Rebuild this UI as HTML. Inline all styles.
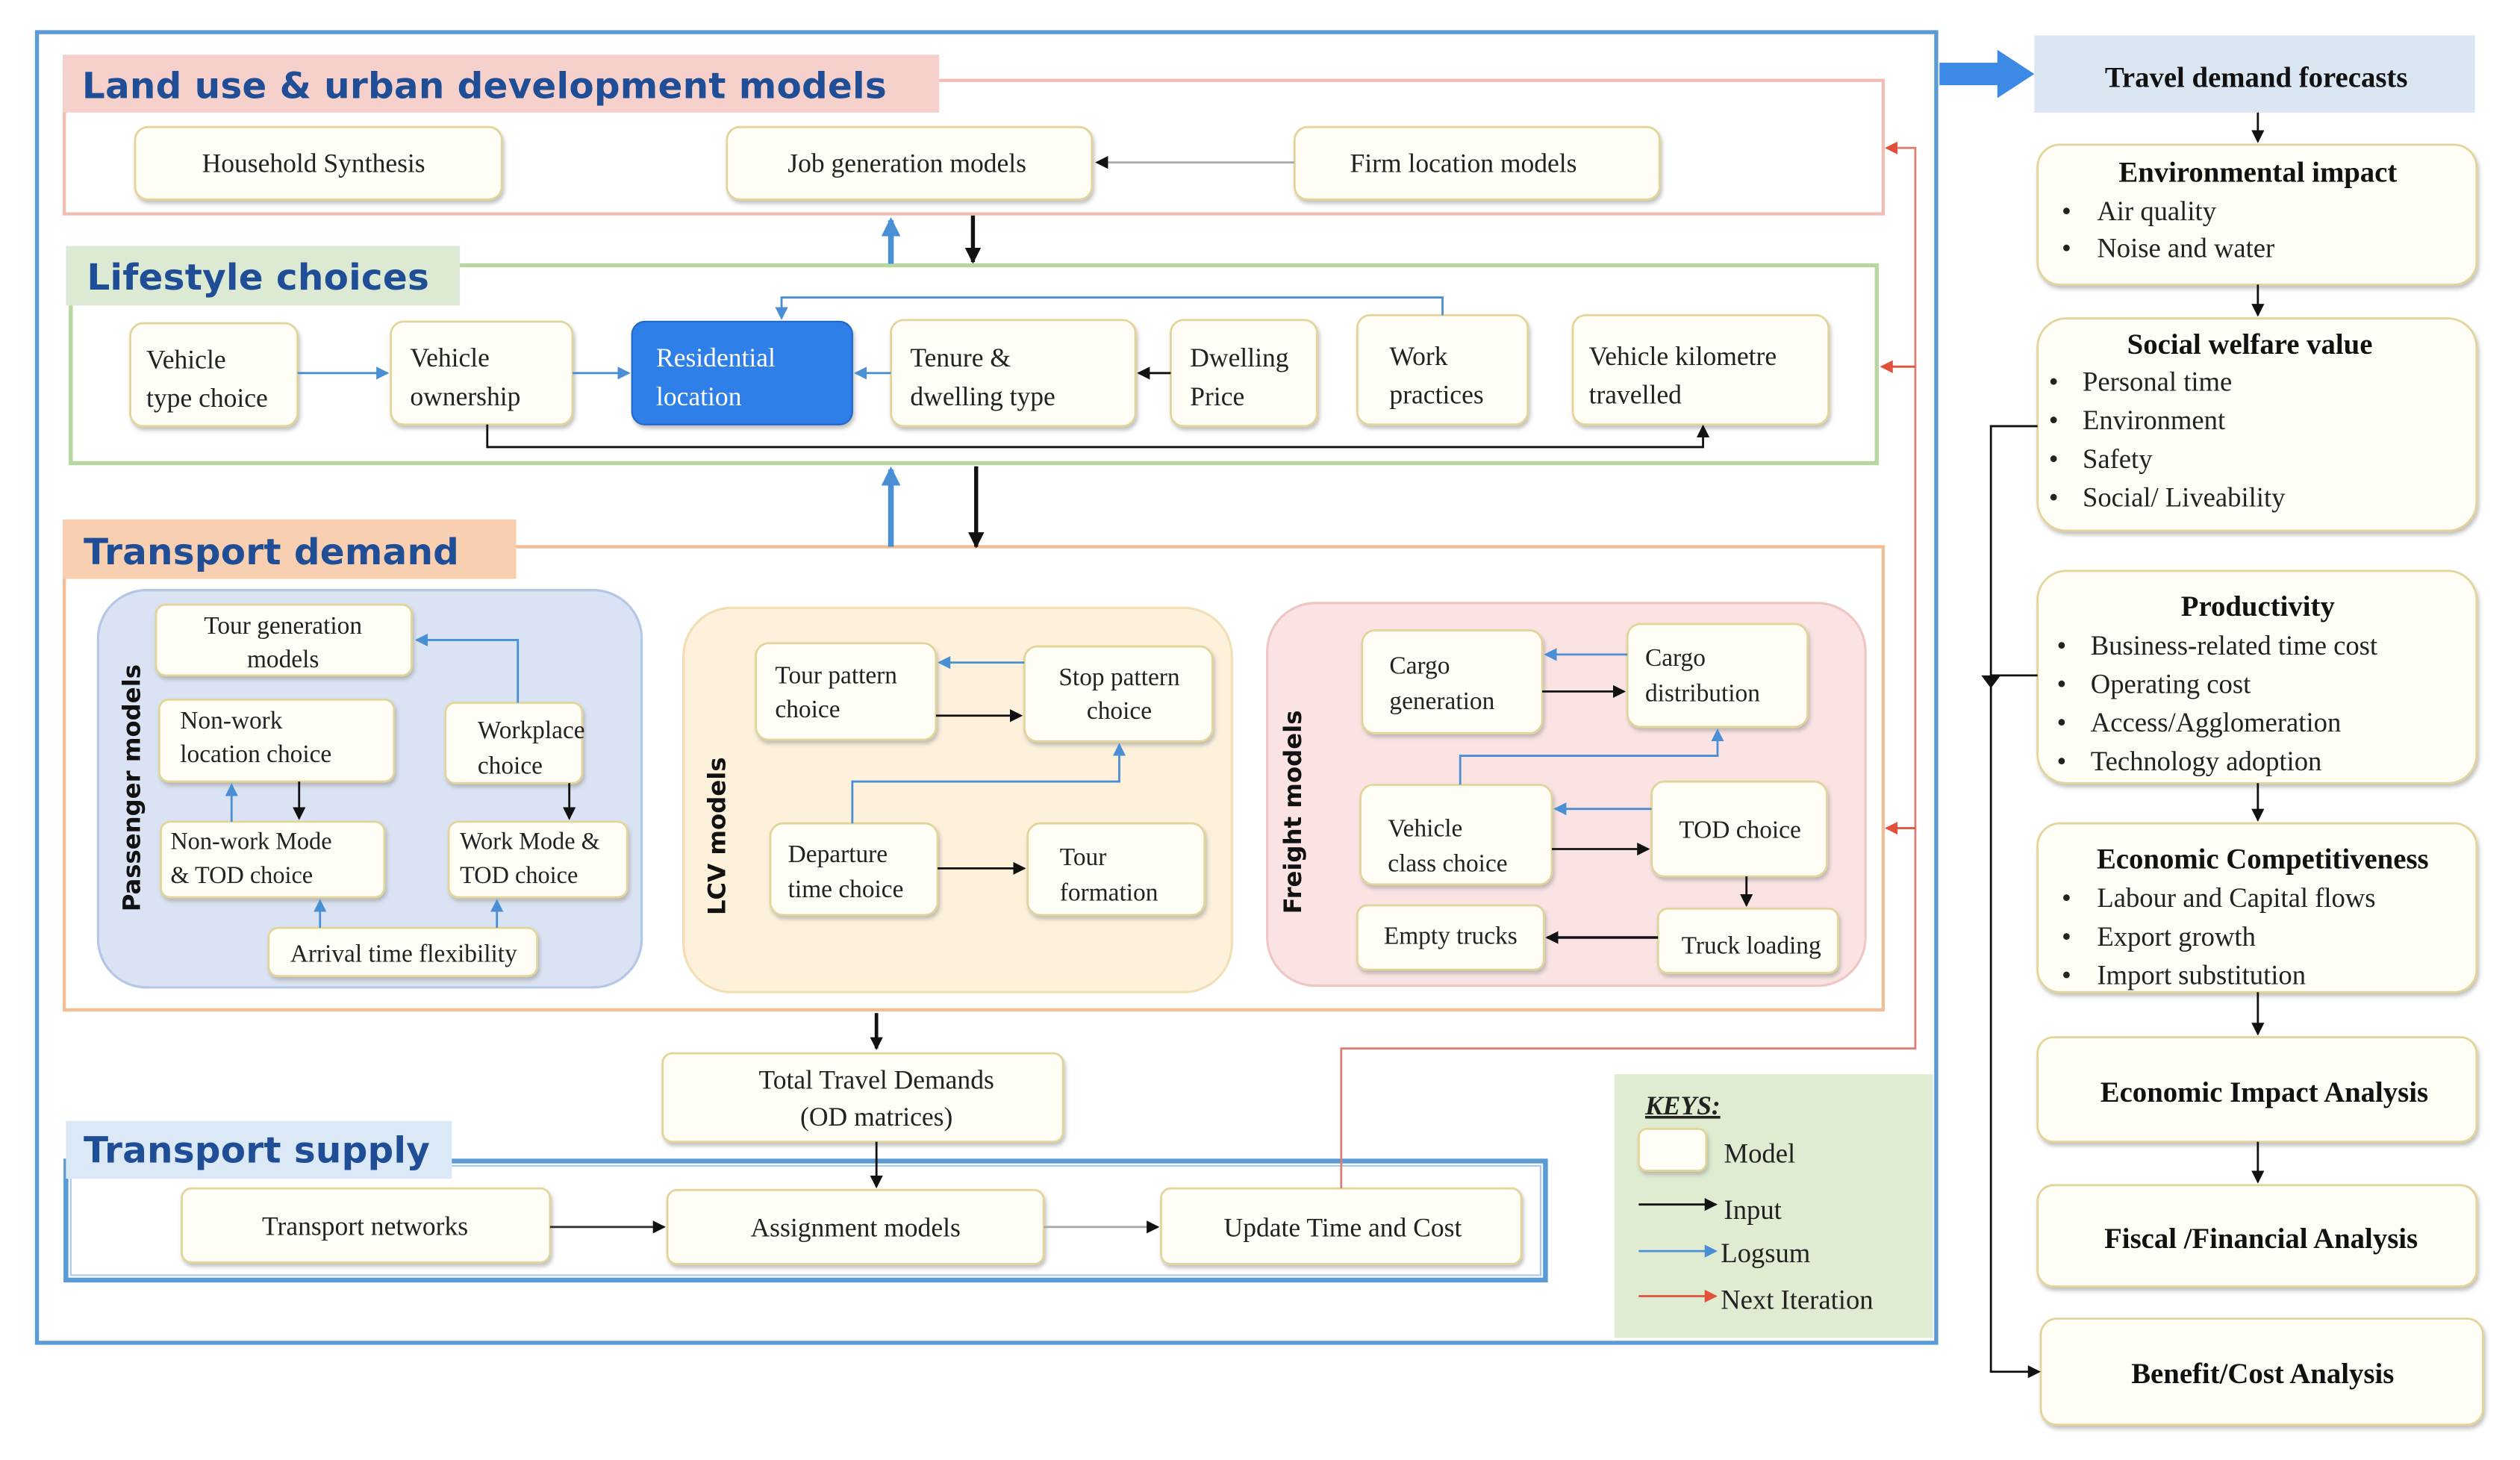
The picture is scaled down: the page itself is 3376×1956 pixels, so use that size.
<!DOCTYPE html>
<html><head><meta charset="utf-8"><style>
html,body{margin:0;padding:0;background:#fff}
svg{display:block}
.s{font-family:"Liberation Serif",serif;font-size:16.5px;fill:#222}
.h{font-family:"DejaVu Sans","Liberation Sans",sans-serif;font-weight:bold;font-size:22.5px;fill:#1f4e96;letter-spacing:0.1px}
.r{font-family:"Liberation Serif",serif;font-size:17px;fill:#222}
.rb{font-family:"Liberation Serif",serif;font-size:18px;font-weight:bold;fill:#111}
.v{font-family:"DejaVu Sans","Liberation Sans",sans-serif;font-weight:bold;font-size:15px;fill:#111}
</style></head><body>
<svg width="3376" height="1956" viewBox="1 0 1567 907.9" preserveAspectRatio="none" xmlns="http://www.w3.org/2000/svg">
<defs>
<marker id="ak" markerWidth="8" markerHeight="8" refX="7" refY="4" orient="auto" markerUnits="userSpaceOnUse"><path d="M0,0 L8,4 L0,8 z" fill="#111"/></marker>
<marker id="ab" markerWidth="8" markerHeight="8" refX="7" refY="4" orient="auto" markerUnits="userSpaceOnUse"><path d="M0,0 L8,4 L0,8 z" fill="#4a8fd4"/></marker>
<marker id="ar" markerWidth="8" markerHeight="8" refX="7" refY="4" orient="auto" markerUnits="userSpaceOnUse"><path d="M0,0 L8,4 L0,8 z" fill="#e0503a"/></marker>
<marker id="aB" markerWidth="12" markerHeight="12" refX="10" refY="6" orient="auto" markerUnits="userSpaceOnUse"><path d="M0,0 L12,6 L0,12 z" fill="#4a8fd4"/></marker>
<marker id="aK" markerWidth="10" markerHeight="10" refX="9" refY="5" orient="auto" markerUnits="userSpaceOnUse"><path d="M0,0 L10,5 L0,10 z" fill="#111"/></marker>
<filter id="sh" x="-10%" y="-10%" width="130%" height="140%"><feDropShadow dx="1" dy="2" stdDeviation="1.2" flood-color="#999" flood-opacity="0.6"/></filter>
</defs>

<rect x="24" y="20" width="1181" height="815" fill="none" stroke="#5b9bd5" stroke-width="2.5"/>

<rect x="41" y="50" width="1131" height="83" fill="none" stroke="#f2bdb5" stroke-width="2"/>
<rect x="40" y="34" width="545" height="36" fill="#f6d1cc"/>
<text x="52" y="61" class="h">Land use &amp; urban development models</text>

<rect x="45" y="165" width="1123" height="123" fill="none" stroke="#b6d7a0" stroke-width="2.5"/>
<rect x="42" y="153" width="245" height="37" fill="#dcead3"/>
<text x="55" y="180" class="h">Lifestyle choices</text>

<rect x="41" y="340" width="1131" height="288" fill="none" stroke="#f4bd94" stroke-width="2"/>
<rect x="40" y="323" width="282" height="37" fill="#f9cfb1"/>
<text x="53" y="351" class="h">Transport demand</text>

<rect x="62" y="367" width="338" height="247" rx="30" fill="#dae3f3" stroke="#b4c7e7" stroke-width="1.5"/>
<rect x="426" y="378" width="341" height="239" rx="30" fill="#fdf1dc" stroke="#f3dfb6" stroke-width="1.5"/>
<rect x="789" y="375" width="372" height="238" rx="30" fill="#fbe3e3" stroke="#efc6c6" stroke-width="1.5"/>
<text class="v" transform="translate(88,490) rotate(-90)" text-anchor="middle">Passenger models</text>
<text class="v" transform="translate(452,520) rotate(-90)" text-anchor="middle">LCV models</text>
<text class="v" transform="translate(810,505) rotate(-90)" text-anchor="middle">Freight models</text>

<rect x="42" y="722" width="920" height="74" fill="none" stroke="#5b9bd5" stroke-width="3"/>
<rect x="45" y="725" width="914" height="68" fill="none" stroke="#a9c8ea" stroke-width="1"/>
<rect x="42" y="697" width="240" height="36" fill="#dbe8f5"/>
<text x="53" y="723" class="h">Transport supply</text>

<rect x="1005" y="668" width="198" height="164" fill="#dfecd1"/>
<text x="1024" y="693" class="s" font-style="italic" font-weight="bold" text-decoration="underline">KEYS:</text>

<g fill="#fffef6" stroke="#e3d59a" stroke-width="1.3" filter="url(#sh)">
<rect x="85" y="79" width="228" height="45" rx="8"/>
<rect x="453" y="79" width="227" height="45" rx="8"/>
<rect x="806" y="79" width="227" height="45" rx="8"/>
<rect x="82" y="201" width="104" height="64" rx="8"/>
<rect x="244" y="200" width="113" height="64" rx="8"/>
<rect x="555" y="199" width="152" height="66" rx="8"/>
<rect x="729" y="199" width="91" height="66" rx="8"/>
<rect x="845" y="196" width="106" height="68" rx="8"/>
<rect x="979" y="196" width="159" height="68" rx="8"/>
<rect x="98" y="376" width="159" height="44" rx="6"/>
<rect x="100" y="435" width="146" height="51" rx="6"/>
<rect x="278" y="437" width="85" height="50" rx="6"/>
<rect x="101" y="511" width="139" height="47" rx="6"/>
<rect x="280" y="511" width="111" height="47" rx="6"/>
<rect x="168" y="577" width="167" height="30" rx="6"/>
<rect x="471" y="400" width="112" height="60" rx="8"/>
<rect x="638" y="402" width="117" height="59" rx="8"/>
<rect x="480" y="512" width="104" height="57" rx="8"/>
<rect x="640" y="512" width="110" height="57" rx="8"/>
<rect x="848" y="392" width="112" height="64" rx="8"/>
<rect x="1013" y="388" width="112" height="64" rx="8"/>
<rect x="847" y="488" width="119" height="62" rx="8"/>
<rect x="1028" y="486" width="109" height="59" rx="8"/>
<rect x="845" y="563" width="116" height="40" rx="6"/>
<rect x="1032" y="565" width="112" height="40" rx="6"/>
<rect x="413" y="655" width="249" height="55" rx="6"/>
<rect x="114" y="739" width="229" height="46" rx="6"/>
<rect x="416" y="740" width="234" height="46" rx="6"/>
<rect x="723" y="739" width="224" height="47" rx="6"/>
<rect x="1020" y="702" width="42" height="26" rx="5"/>
<rect x="1268" y="90" width="273" height="87" rx="14"/>
<rect x="1268" y="198" width="273" height="132" rx="18"/>
<rect x="1268" y="355" width="273" height="132" rx="18"/>
<rect x="1268" y="512" width="273" height="105" rx="14"/>
<rect x="1268" y="645" width="273" height="65" rx="10"/>
<rect x="1268" y="737" width="273" height="63" rx="10"/>
<rect x="1270" y="820" width="275" height="66" rx="10"/>
</g>
<rect x="394" y="200" width="137" height="64" rx="8" fill="#2f80e8" stroke="#2468c4" filter="url(#sh)"/>

<g class="s">
<text x="196" y="107" text-anchor="middle">Household Synthesis</text>
<text x="565" y="107" text-anchor="middle">Job generation models</text>
<text x="911" y="107" text-anchor="middle">Firm location models</text>
<text x="92" y="229">Vehicle</text><text x="92" y="253">type choice</text>
<text x="256" y="228">Vehicle</text><text x="256" y="252">ownership</text>
<text x="409" y="228" fill="#fff">Residential</text><text x="409" y="252" fill="#fff">location</text>
<text x="567" y="228">Tenure &amp;</text><text x="567" y="252">dwelling type</text>
<text x="741" y="228">Dwelling</text><text x="741" y="252">Price</text>
<text x="865" y="227">Work</text><text x="865" y="251">practices</text>
<text x="989" y="227">Vehicle kilometre</text><text x="989" y="251">travelled</text>
<text x="177" y="394" text-anchor="middle" font-size="15.5">Tour generation</text><text x="177" y="415" text-anchor="middle" font-size="15.5">models</text>
<text x="113" y="453" font-size="15.5">Non-work</text><text x="113" y="474" font-size="15.5">location choice</text>
<text x="298" y="459" font-size="15.5">Workplace</text><text x="298" y="481" font-size="15.5">choice</text>
<text x="107" y="528" font-size="15">Non-work Mode</text><text x="107" y="549" font-size="15">&amp; TOD choice</text>
<text x="287" y="528" font-size="15">Work Mode &amp;</text><text x="287" y="549" font-size="15">TOD choice</text>
<text x="252" y="598" text-anchor="middle" font-size="15.5">Arrival time flexibility</text>
<text x="483" y="425" font-size="15.5">Tour pattern</text><text x="483" y="446" font-size="15.5">choice</text>
<text x="697" y="426" text-anchor="middle" font-size="15.5">Stop pattern</text><text x="697" y="447" text-anchor="middle" font-size="15.5">choice</text>
<text x="491" y="536" font-size="15.5">Departure</text><text x="491" y="558" font-size="15.5">time choice</text>
<text x="660" y="538" font-size="15.5">Tour</text><text x="660" y="560" font-size="15.5">formation</text>
<text x="865" y="419" font-size="15.5">Cargo</text><text x="865" y="441" font-size="15.5">generation</text>
<text x="1024" y="414" font-size="15.5">Cargo</text><text x="1024" y="436" font-size="15.5">distribution</text>
<text x="864" y="520" font-size="15.5">Vehicle</text><text x="864" y="542" font-size="15.5">class choice</text>
<text x="1083" y="521" text-anchor="middle" font-size="15.5">TOD choice</text>
<text x="903" y="587" text-anchor="middle" font-size="15.5">Empty trucks</text>
<text x="1090" y="593" text-anchor="middle" font-size="15.5">Truck loading</text>
<text x="546" y="677" text-anchor="middle">Total Travel Demands</text><text x="546" y="700" text-anchor="middle">(OD matrices)</text>
<text x="228" y="768" text-anchor="middle">Transport networks</text>
<text x="533" y="769" text-anchor="middle">Assignment models</text>
<text x="836" y="769" text-anchor="middle">Update Time and Cost</text>
<text x="1073" y="723" font-size="17">Model</text>
<text x="1073" y="758" font-size="17">Input</text>
<text x="1071" y="785" font-size="17">Logsum</text>
<text x="1071" y="814" font-size="17">Next Iteration</text>
</g>

<rect x="1266" y="22" width="274" height="48" fill="#dae6f2"/>
<text x="1404" y="54" class="rb" text-anchor="middle" font-size="20.5">Travel demand forecasts</text>
<text x="1405" y="113" class="rb" text-anchor="middle">Environmental impact</text>
<g class="r"><text x="1283" y="137">•</text><text x="1305" y="137">Air quality</text><text x="1283" y="160">•</text><text x="1305" y="160">Noise and water</text></g>
<text x="1400" y="220" class="rb" text-anchor="middle">Social welfare value</text>
<g class="r"><text x="1275" y="243">•</text><text x="1296" y="243">Personal time</text><text x="1275" y="267">•</text><text x="1296" y="267">Environment</text><text x="1275" y="291">•</text><text x="1296" y="291">Safety</text><text x="1275" y="315">•</text><text x="1296" y="315">Social/ Liveability</text></g>
<text x="1405" y="383" class="rb" text-anchor="middle">Productivity</text>
<g class="r"><text x="1280" y="407">•</text><text x="1301" y="407">Business-related time cost</text><text x="1280" y="431">•</text><text x="1301" y="431">Operating cost</text><text x="1280" y="455">•</text><text x="1301" y="455">Access/Agglomeration</text><text x="1280" y="479">•</text><text x="1301" y="479">Technology adoption</text></g>
<text x="1408" y="540" class="rb" text-anchor="middle">Economic Competitiveness</text>
<g class="r"><text x="1283" y="564">•</text><text x="1305" y="564">Labour and Capital flows</text><text x="1283" y="588">•</text><text x="1305" y="588">Export growth</text><text x="1283" y="612">•</text><text x="1305" y="612">Import substitution</text></g>
<text x="1409" y="685" class="rb" text-anchor="middle" font-size="20">Economic Impact Analysis</text>
<text x="1407" y="776" class="rb" text-anchor="middle" font-size="20">Fiscal /Financial Analysis</text>
<text x="1408" y="860" class="rb" text-anchor="middle" font-size="20">Benefit/Cost Analysis</text>

<g fill="none" stroke-width="1.3">
<line x1="806" y1="101" x2="683" y2="101" stroke="#aaa" marker-end="url(#ak)"/>
<line x1="555" y1="164" x2="555" y2="137" stroke="#4a8fd4" stroke-width="3.5" marker-end="url(#aB)"/>
<line x1="606" y1="134" x2="606" y2="163" stroke="#111" stroke-width="2.5" marker-end="url(#aK)"/>
<line x1="186" y1="232" x2="242" y2="232" stroke="#4a8fd4" marker-end="url(#ab)"/>
<line x1="357" y1="232" x2="392" y2="232" stroke="#4a8fd4" marker-end="url(#ab)"/>
<line x1="555" y1="232" x2="533" y2="232" stroke="#4a8fd4" marker-end="url(#ab)"/>
<line x1="729" y1="232" x2="709" y2="232" stroke="#111" marker-end="url(#ak)"/>
<polyline points="898,196 898,185 487,185 487,198" stroke="#4a8fd4" marker-end="url(#ab)"/>
<polyline points="304,264 304,278 1060,278 1060,265" stroke="#111" marker-end="url(#ak)"/>
<line x1="555" y1="340" x2="555" y2="292" stroke="#4a8fd4" stroke-width="3.5" marker-end="url(#aB)"/>
<line x1="608" y1="290" x2="608" y2="340" stroke="#111" stroke-width="2.5" marker-end="url(#aK)"/>
<polyline points="323,437 323,398 260,398" stroke="#4a8fd4" marker-end="url(#ab)"/>
<line x1="145" y1="511" x2="145" y2="488" stroke="#4a8fd4" marker-end="url(#ab)"/>
<line x1="187" y1="486" x2="187" y2="509" stroke="#111" marker-end="url(#ak)"/>
<line x1="355" y1="487" x2="355" y2="509" stroke="#111" marker-end="url(#ak)"/>
<line x1="200" y1="577" x2="200" y2="560" stroke="#4a8fd4" marker-end="url(#ab)"/>
<line x1="310" y1="577" x2="310" y2="560" stroke="#4a8fd4" marker-end="url(#ab)"/>
<line x1="638" y1="412" x2="585" y2="412" stroke="#4a8fd4" marker-end="url(#ab)"/>
<line x1="583" y1="445" x2="636" y2="445" stroke="#111" marker-end="url(#ak)"/>
<polyline points="531,512 531,486 697,486 697,463" stroke="#4a8fd4" marker-end="url(#ab)"/>
<line x1="584" y1="540" x2="638" y2="540" stroke="#111" marker-end="url(#ak)"/>
<line x1="1013" y1="407" x2="962" y2="407" stroke="#4a8fd4" marker-end="url(#ab)"/>
<line x1="960" y1="430" x2="1011" y2="430" stroke="#111" marker-end="url(#ak)"/>
<polyline points="909,488 909,470 1069,470 1069,454" stroke="#4a8fd4" marker-end="url(#ab)"/>
<line x1="1028" y1="503" x2="968" y2="503" stroke="#4a8fd4" marker-end="url(#ab)"/>
<line x1="966" y1="528" x2="1026" y2="528" stroke="#111" marker-end="url(#ak)"/>
<line x1="1087" y1="545" x2="1087" y2="563" stroke="#111" marker-end="url(#ak)"/>
<line x1="1032" y1="583" x2="963" y2="583" stroke="#111" stroke-width="1.6" marker-end="url(#ak)"/>
<line x1="546" y1="630" x2="546" y2="652" stroke="#111" stroke-width="2.2" marker-end="url(#ak)"/>
<line x1="546" y1="710" x2="546" y2="738" stroke="#111" marker-end="url(#ak)"/>
<line x1="343" y1="763" x2="414" y2="763" stroke="#333" marker-end="url(#ak)"/>
<line x1="650" y1="763" x2="721" y2="763" stroke="#aaa" marker-end="url(#ak)"/>
<polyline points="835,739 835,652 1192,652 1192,92 1174,92" stroke="#d98070" marker-end="url(#ar)"/>
<line x1="1192" y1="228" x2="1171" y2="228" stroke="#e0503a" marker-end="url(#ar)"/>
<line x1="1192" y1="515" x2="1174" y2="515" stroke="#e0503a" marker-end="url(#ar)"/>
<line x1="1020" y1="749" x2="1068" y2="749" stroke="#111" marker-end="url(#ak)"/>
<line x1="1020" y1="778" x2="1068" y2="778" stroke="#4a8fd4" marker-end="url(#ab)"/>
<line x1="1020" y1="806" x2="1068" y2="806" stroke="#e0503a" marker-end="url(#ar)"/>
<line x1="1405" y1="70" x2="1405" y2="88" stroke="#111" marker-end="url(#ak)"/>
<line x1="1405" y1="177" x2="1405" y2="196" stroke="#111" marker-end="url(#ak)"/>
<line x1="1405" y1="487" x2="1405" y2="510" stroke="#111" marker-end="url(#ak)"/>
<line x1="1405" y1="617" x2="1405" y2="643" stroke="#111" marker-end="url(#ak)"/>
<line x1="1405" y1="710" x2="1405" y2="735" stroke="#111" marker-end="url(#ak)"/>
<polyline points="1268,265 1239,265 1239,853 1269,853" stroke="#111" marker-end="url(#ak)"/>
<polyline points="1268,420 1239,420" stroke="#111"/>
</g>
<path d="M1233,420 L1245,420 L1239,428 z" fill="#111"/>
<path d="M1207,39 L1243,39 L1243,31 L1266,46 L1243,61 L1243,53 L1207,53 z" fill="#3d8ae6"/>
</svg>
</body></html>
